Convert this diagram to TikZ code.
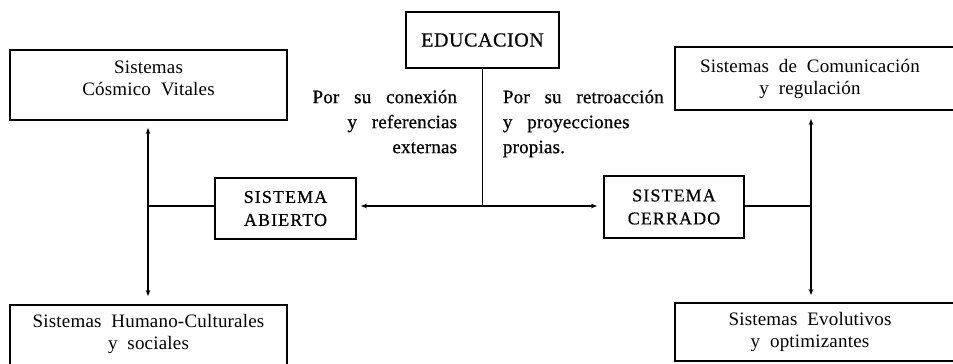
\documentclass[tikz,border=0pt]{standalone}
\usepackage{fontspec}
\setmainfont{Liberation Serif}[LetterSpace=1, WordSpace=2]
\newfontfamily\capsfont{Liberation Serif}[LetterSpace=6, WordSpace=2, FakeBold=0.6]
\newfontfamily\edufont{Liberation Serif}[LetterSpace=3, FakeBold=0.6]
\newfontfamily\sidefont{Liberation Serif}[LetterSpace=1, WordSpace=3, FakeBold=0.6]
\usetikzlibrary{arrows.meta}
\begin{document}
\begin{tikzpicture}[x=1pt,y=-1pt,
  line width=1.9pt,
  box/.style={draw, line width=1.9pt, inner sep=0pt},
  txt/.style={align=center, inner sep=0pt, font=\fontsize{19}{22.5}\selectfont},
  captxt/.style={align=center, inner sep=0pt, font=\capsfont\fontsize{18}{23}\selectfont},
  edutxt/.style={align=center, inner sep=0pt, font=\edufont\fontsize{20}{23}\selectfont},
  side/.style={inner sep=0pt, font=\sidefont\fontsize{19}{25}\selectfont},
  arr/.style={-{Stealth[length=6pt,width=4.5pt]}}]
\useasboundingbox (0,0) rectangle (953,364);
% boxes
\node[box, minimum width=277pt, minimum height=70pt] (cv) at (148.5,85) {};
\node[txt] (cvt) at (148.5,78.5) {Sistemas\\Cósmico Vitales};
\node[box, minimum width=277pt, minimum height=66pt] (hc) at (148.5,338) {};
\node[txt] (hct) at (148.5,334) {Sistemas Humano-Culturales\\y sociales};
\node[box, minimum width=283pt, minimum height=63pt] (co) at (816.5,78.5) {};
\node[txt] (cot) at (810,79) {Sistemas de Comunicación\\y regulación};
\node[box, minimum width=283pt, minimum height=58pt] (ev) at (816.5,332) {};
\node[txt] (evt) at (810,332) {Sistemas Evolutivos\\y optimizantes};
\node[box, edutxt, minimum width=153pt, minimum height=56pt] (ed) at (482.5,40) {EDUCACION};
\node[box, captxt, minimum width=141pt, minimum height=61pt] (ab) at (285.5,208.5) {SISTEMA\\ABIERTO};
\node[box, captxt, minimum width=140pt, minimum height=62pt] (ce) at (674,207) {SISTEMA\\CERRADO};
% side labels
\node[side, align=right, anchor=north east] (l1) at (458,89) {Por su conexión\\y referencias\\externas};
\node[side, align=left, anchor=north west] (l2) at (502,89) {Por su retroacción\\y proyecciones\\propias.};
% junctions
\coordinate (jl) at (148,206);
\coordinate (jm) at (482.5,206);
\coordinate (jr) at (811,206);
% connectors
\draw[arr, shorten >=7pt] (jl) -- (cv.south -| jl);
\draw[arr, shorten >=8pt] (jl) -- (hc.north -| jl);
\draw (jl) -- (ab.west |- jl);
\draw (ed.south) -- (jm);
\draw[arr, shorten >=4pt] (jm) -- (ab.east |- jm);
\draw[arr, shorten >=6pt] (jm) -- (ce.west |- jm);
\draw (ce.east |- jr) -- (jr);
\draw[arr, shorten >=8pt] (jr) -- (co.south -| jr);
\draw[arr, shorten >=7pt] (jr) -- (ev.north -| jr);
\end{tikzpicture}
\end{document}
